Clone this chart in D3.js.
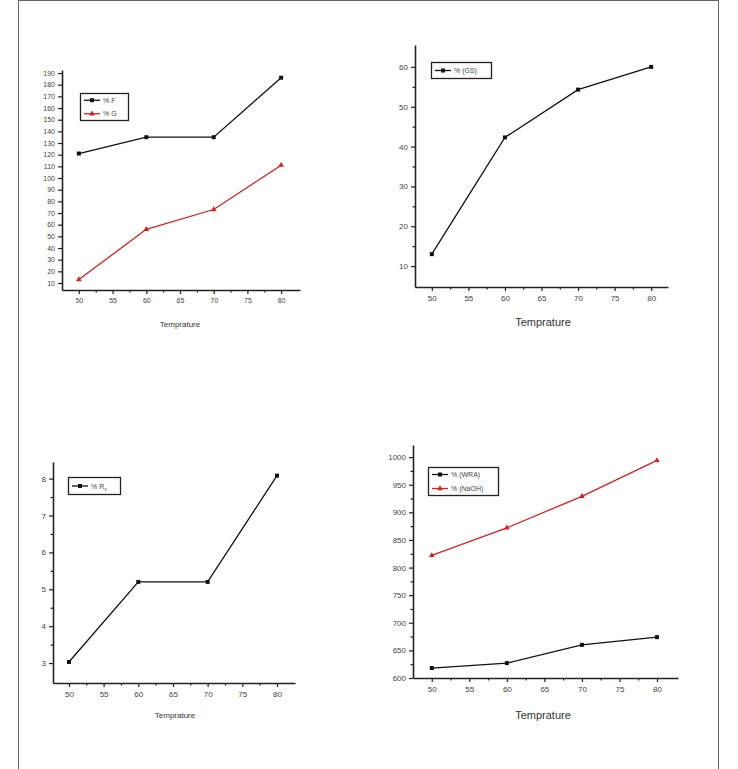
<!DOCTYPE html>
<html><head><meta charset="utf-8">
<script src="https://cdn.jsdelivr.net/npm/d3@7"></script>
<style>body{margin:0;background:#fff}svg{display:block}</style>
</head><body>
<script>
// ---- data ----
const temps = [50, 60, 70, 80];
const xTicks = [50, 55, 60, 65, 70, 75, 80];
const pctF = [121, 135, 135, 186];
const pctG = [13, 56, 73, 111];
const pctGS = [13, 42.3, 54.3, 60];
const pctRv = [3.03, 5.2, 5.2, 8.08];
const pctWRA = [618, 627, 660, 674];
const pctNaOH = [822, 872, 929, 994];
const ticks1 = [10,20,30,40,50,60,70,80,90,100,110,120,130,140,150,160,170,180,190];
const ticks2 = [10,20,30,40,50,60];
const ticks3 = [3,4,5,6,7,8];
const ticks4 = [600,650,700,750,800,850,900,950,1000];
const xTitle = "Temprature";

const W = 738, H = 769;
const svg = d3.select("body").append("svg").attr("width", W).attr("height", H);
svg.append("rect").attr("x", 18.5).attr("y", 0.5).attr("width", 700).attr("height", 780)
  .attr("fill", "none").attr("stroke", "#666").attr("stroke-width", 1);

const panels = [
  {x0:62, x1:300, y0:70, y1:290, xd:[47.5,82.8], yd:[4,192.6], yt:ticks1, ym:[], fs:7, tfs:8, tx:180, ty:327,
   series:[{v:pctF, c:"#111", m:"sq", name:"% F"},{v:pctG, c:"#d62020", m:"tri", name:"% G"}],
   leg:{x:80, y:93, w:48, h:27}},
  {x0:415, x1:668, y0:45, y1:287, xd:[47.7,82.3], yd:[4.75,65.5], yt:ticks2, ym:[15,25,35,45,55], fs:8, tfs:11, tx:543, ty:326,
   series:[{v:pctGS, c:"#111", m:"sq", name:"% (GS)"}],
   leg:{x:431, y:62, w:60, h:16}},
  {x0:53, x1:295, y0:462, y1:683, xd:[47.7,82.6], yd:[2.46,8.45], yt:ticks3, ym:[3.5,4.5,5.5,6.5,7.5], fs:8, tfs:8, tx:175, ty:718,
   series:[{v:pctRv, c:"#111", m:"sq", name:"% R", sub:"v"}],
   leg:{x:68, y:477, w:52, h:17}},
  {x0:413, x1:678, y0:445, y1:678, xd:[47.5,82.8], yd:[600,1022], yt:ticks4, ym:[625,675,725,775,825,875,925,975], fs:8, tfs:11, tx:543, ty:719,
   series:[{v:pctWRA, c:"#111", m:"sq", name:"% (WRA)"},{v:pctNaOH, c:"#d62020", m:"tri", name:"% (NaOH)"}],
   leg:{x:428, y:467, w:70, h:28}}
];

const font = "Liberation Sans, Arial, sans-serif";
const axColor = "#222";

panels.forEach(p => {
  const g = svg.append("g");
  const x = d3.scaleLinear().domain(p.xd).range([p.x0, p.x1]);
  const y = d3.scaleLinear().domain(p.yd).range([p.y1, p.y0]);

  // x axis
  const xa = g.append("g").attr("transform", `translate(0,${p.y1})`)
    .call(d3.axisBottom(x).tickValues(xTicks).tickSize(4).tickSizeOuter(0).tickFormat(d3.format("d")));
  xa.selectAll("text").attr("font-size", p.fs).attr("font-family", font).attr("fill", "#444").attr("dy", "0.9em");
  const xm = g.append("g").attr("transform", `translate(0,${p.y1})`)
    .call(d3.axisBottom(x).tickValues([52.5,57.5,62.5,67.5,72.5,77.5]).tickSize(2.5).tickSizeOuter(0).tickFormat(""));
  xm.select(".domain").remove();
  // y axis
  const ya = g.append("g").attr("transform", `translate(${p.x0},0)`)
    .call(d3.axisLeft(y).tickValues(p.yt).tickSize(4).tickSizeOuter(0).tickFormat(d3.format("d")));
  ya.selectAll("text").attr("font-size", p.fs).attr("font-family", font).attr("fill", "#444");
  if (p.ym.length) {
    const ymg = g.append("g").attr("transform", `translate(${p.x0},0)`)
      .call(d3.axisLeft(y).tickValues(p.ym).tickSize(2.5).tickSizeOuter(0).tickFormat(""));
    ymg.select(".domain").remove();
  }
  g.selectAll(".domain").attr("stroke", axColor).attr("stroke-width", 1.6);
  g.selectAll(".tick line").attr("stroke", axColor).attr("stroke-width", 1.2);

  g.append("text").attr("x", p.tx).attr("y", p.ty).attr("text-anchor", "middle")
    .attr("font-size", p.tfs).attr("font-family", font).attr("fill", "#333").text(xTitle);

  const line = d3.line().x((d, i) => x(temps[i])).y(d => y(d));
  p.series.forEach(s => {
    g.append("path").attr("d", line(s.v)).attr("fill", "none").attr("stroke", s.c).attr("stroke-width", 1.3);
    s.v.forEach((v, i) => {
      drawMarker(g, x(temps[i]), y(v), s);
    });
  });

  // legend
  const L = p.leg;
  g.append("rect").attr("x", L.x + .5).attr("y", L.y + .5).attr("width", L.w).attr("height", L.h)
    .attr("fill", "#fff").attr("stroke", "#222").attr("stroke-width", 1.3);
  const rowH = L.h / p.series.length;
  p.series.forEach((s, i) => {
    const cy = L.y + rowH * (i + 0.5) + 0.5;
    g.append("line").attr("x1", L.x + 4).attr("x2", L.x + 20).attr("y1", cy).attr("y2", cy)
      .attr("stroke", s.c).attr("stroke-width", 1.3);
    drawMarker(g, L.x + 12, cy, s);
    const t = g.append("text").attr("x", L.x + 23).attr("y", cy + 2.5).attr("font-size", 7)
      .attr("font-family", font).attr("fill", "#444").text(s.name);
    if (s.sub) t.append("tspan").attr("font-size", 5).attr("dy", 2).text(s.sub);
  });
});

function drawMarker(g, cx, cy, s) {
  if (s.m === "sq") {
    g.append("rect").attr("x", cx - 2).attr("y", cy - 2).attr("width", 4).attr("height", 4).attr("fill", s.c);
  } else {
    g.append("path").attr("d", d3.symbol().type(d3.symbolTriangle).size(14)()).attr("transform", `translate(${cx},${cy})`)
      .attr("fill", s.c);
  }
}
</script>
</body></html>
